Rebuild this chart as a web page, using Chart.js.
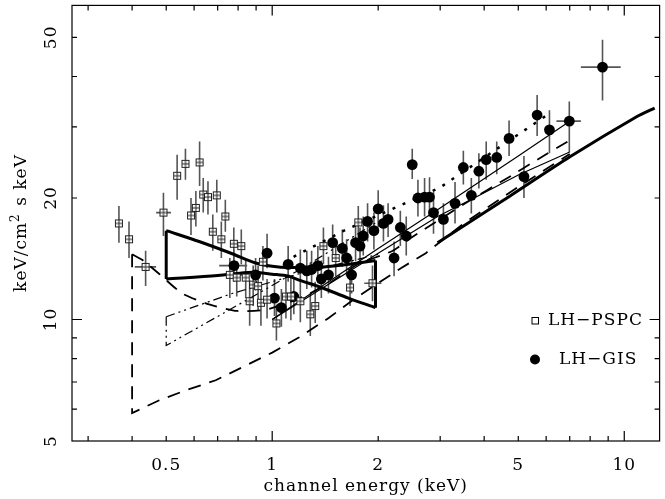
<!DOCTYPE html>
<html>
<head>
<meta charset="utf-8">
<script src="https://cdn.jsdelivr.net/npm/chart.js@4.4.1/dist/chart.umd.min.js"></script>
<style>
html, body { margin: 0; padding: 0; background: #fff; }
#wrap { width: 665px; height: 499px; }
</style>
</head>
<body>
<div id="wrap"><canvas id="myChart" width="665" height="499"></canvas></div>
<script>
// LH-PSPC points: energy (keV), flux, error bar low/high
const pspcE  = [0.367, 0.392, 0.437, 0.491, 0.537, 0.567, 0.622, 0.588, 0.607, 0.637, 0.657, 0.696, 0.736, 0.678, 0.717, 0.778, 0.817, 0.758, 0.793, 0.841, 0.883, 0.912, 0.863, 0.929, 0.941, 1.028, 0.967, 1.094, 1.130, 1.202, 1.325, 1.283, 1.398, 1.515, 1.664, 1.756, 1.927];
const pspcF  = [17.3, 15.8, 13.5, 18.4, 22.7, 24.3, 24.5, 18.1, 18.9, 20.4, 20.1, 20.3, 18.0, 16.5, 15.8, 15.4, 15.2, 12.9, 12.7, 12.7, 12.2, 12.1, 11.1, 11.0, 13.9, 9.78, 11.2, 11.4, 11.4, 11.1, 10.8, 10.3, 15.2, 14.2, 12.0, 17.4, 12.3];
const pspcLo = [15.5, 14.2, 12.1, 16.1, 19.8, 22.2, 21.4, 16.2, 17.0, 18.4, 18.2, 18.4, 16.5, 14.8, 14.2, 13.96, 13.7, 11.3, 11.4, 11.3, 10.8, 10.5, 9.65, 9.65, 12.5, 8.87, 10.05, 10.05, 9.95, 9.85, 9.8, 9.1, 13.7, 12.8, 10.8, 15.8, 11.1];
const pspcHi = [19.1, 17.5, 14.8, 20.6, 25.6, 26.5, 27.6, 20.0, 20.8, 22.4, 22.0, 22.2, 19.8, 18.2, 17.5, 16.9, 16.7, 14.2, 13.96, 14.1, 13.6, 13.6, 12.5, 12.4, 15.2, 10.9, 12.6, 12.8, 12.8, 12.5, 12.4, 11.6, 16.9, 15.6, 13.3, 19.1, 13.6];
const pspcXIdx = [2, 3, 17, 36];
const pspcXLo  = [0.407, 0.468, 0.707, 1.826];
const pspcXHi  = [0.468, 0.516, 0.841, 2.043];

// LH-GIS points
const gisE  = [0.779, 0.967, 0.897, 1.110, 1.202, 1.254, 1.294, 1.348, 1.015, 1.062, 1.152, 1.379, 1.445, 1.485, 1.582, 1.627, 1.681, 1.725, 1.776, 1.814, 1.866, 1.945, 2.000, 2.070, 2.134, 2.219, 2.312, 2.403, 2.499, 2.594, 2.709, 2.798, 2.872, 3.064, 3.306, 3.491, 3.678, 3.864, 4.054, 4.343, 4.708, 5.189, 5.656, 6.131, 6.981, 8.674];
const gisF  = [13.6, 14.6, 12.9, 13.7, 13.4, 13.2, 13.3, 13.6, 11.3, 10.7, 11.4, 12.6, 12.9, 15.5, 15.0, 14.2, 12.9, 15.5, 15.2, 16.1, 17.5, 16.6, 18.8, 17.3, 17.7, 14.2, 16.9, 16.1, 24.2, 20.0, 20.1, 20.1, 18.4, 17.7, 19.4, 23.8, 20.3, 23.3, 24.9, 25.2, 28.1, 22.6, 32.1, 29.5, 31.0, 42.2];
const gisLo = [12.4, 13.4, 11.8, 12.4, 12.1, 11.9, 12.0, 12.3, 10.2, 9.6, 10.3, 11.3, 11.6, 13.96, 13.5, 12.8, 11.6, 13.96, 13.7, 14.4, 15.6, 14.9, 16.9, 15.6, 16.0, 12.8, 15.2, 14.4, 22.3, 18.0, 18.0, 18.0, 16.3, 15.9, 17.3, 21.6, 18.3, 21.1, 22.2, 22.9, 25.4, 20.0, 28.5, 25.8, 26.0, 34.9];
const gisHi = [14.9, 16.3, 14.2, 15.2, 14.9, 14.8, 14.8, 15.2, 12.6, 11.9, 12.7, 14.0, 14.3, 17.2, 16.7, 15.8, 14.3, 17.3, 16.9, 18.0, 19.4, 18.4, 20.9, 19.2, 19.4, 15.6, 18.6, 18.0, 26.5, 22.2, 22.4, 22.5, 20.7, 19.4, 21.9, 26.2, 22.4, 25.8, 27.6, 27.6, 31.1, 25.4, 36.0, 33.0, 34.7, 49.3];
const gisXIdx = [0, 44, 45];
const gisXLo  = [0.707, 6.417, 7.53];
const gisXHi  = [0.849, 7.53, 9.77];

// model curves
const bowUpE = [0.5, 0.62, 0.77, 0.897, 1.0, 1.114, 1.4, 1.7, 1.965];
const bowUpF = [16.6, 15.6, 14.55, 13.8, 13.55, 13.45, 13.5, 13.75, 14.0];
const bowLoE = [0.5, 0.7, 0.876, 1.0, 1.114, 1.2, 1.38, 1.645, 1.965];
const bowLoF = [12.6, 12.85, 13.1, 12.95, 12.8, 12.5, 12.0, 11.3, 10.7];

const dashLoE = [0.4, 0.4, 0.478, 0.569, 0.691, 0.821, 1.0, 1.19, 1.45, 1.677, 2.0, 2.32, 2.73, 3.5, 5.0, 7.0];
const dashLoF = [14.5, 5.86, 6.31, 6.68, 7.07, 7.61, 8.28, 9.02, 10.1, 11.1, 12.3, 13.4, 14.6, 17.3, 21.3, 25.7];
const dashUpE = [0.4, 0.43, 0.478, 0.555, 0.662, 0.795, 0.96, 1.2, 1.45, 1.75, 2.2, 2.5, 3.5, 4.77, 5.54, 7.0];
const dashUpF = [14.5, 14.0, 12.96, 11.6, 10.9, 10.5, 10.57, 11.3, 12.3, 13.7, 14.8, 16.0, 19.3, 22.7, 24.6, 27.8];

const ddUpE = [0.5, 0.77, 1.2, 2.0];
const ddUpF = [10.16, 11.6, 13.0, 14.5];
const ddLoE = [0.5, 0.5, 0.82, 1.2, 2.0];
const ddLoF = [10.16, 8.62, 11.0, 13.3, 17.5];

const dotE = [1.15, 1.6, 2.99, 4.5, 6.1];
const dotF = [14.3, 16.6, 21.2, 27.0, 32.3];

const thinAE = [1.0, 2.0, 3.0, 5.0, 7.0];
const thinAF = [10.0, 15.0, 18.9, 25.4, 31.0];
const thinBE = [1.0, 2.0, 2.95, 3.83, 5.0, 7.0];
const thinBF = [10.0, 14.6, 18.0, 20.2, 22.8, 26.0];

const thickE = [2.95, 4.56, 7.01, 10.84, 12.2];
const thickF = [15.5, 19.8, 25.3, 31.8, 33.4];

// axis ticks
const xTickLabels = [0.5, 1, 2, 5, 10];
const xMajor = [1, 10];
const xMinor = [0.3, 0.4, 0.5, 0.6, 0.7, 0.8, 0.9, 2, 3, 4, 5, 6, 7, 8, 9];
const yTickLabels = [5, 10, 20, 50];
const yMajor = [10];
const yMinor = [6, 7, 8, 9, 20, 30, 40, 50];

const pts = (xs, ys) => xs.map((v, i) => ({ x: v, y: ys[i] }));

const FONT = '17px "DejaVu Serif"';

// open square with cross for the PSPC points
const sqImg = document.createElement('canvas');
sqImg.width = 10; sqImg.height = 10;
const g = sqImg.getContext('2d');
g.fillStyle = '#fff';
g.fillRect(1, 1, 8, 8);
g.strokeStyle = '#222';
g.lineWidth = 1;
g.strokeRect(1.5, 1.5, 7, 7);
g.beginPath();
g.moveTo(5, 1.5); g.lineTo(5, 8.5);
g.moveTo(1.5, 5); g.lineTo(8.5, 5);
g.stroke();

function line(data, width, dash, tension) {
    return {
        data: data,
        showLine: true,
        borderColor: '#000',
        borderWidth: width,
        borderDash: dash || [],
        pointRadius: 0,
        fill: false,
        tension: tension || 0
    };
}

const errorBars = {
    id: 'errorBars',
    beforeDatasetsDraw(chart) {
        const { ctx, scales: { x, y } } = chart;
        ctx.save();
        ctx.strokeStyle = '#555';
        ctx.lineWidth = 1.6;
        ctx.beginPath();
        const vert = (es, lo, hi) => {
            es.forEach((e, i) => {
                const px = x.getPixelForValue(e);
                ctx.moveTo(px, y.getPixelForValue(lo[i]));
                ctx.lineTo(px, y.getPixelForValue(hi[i]));
            });
        };
        vert(pspcE, pspcLo, pspcHi);
        vert(gisE, gisLo, gisHi);
        const horiz = (idx, fs, lo, hi) => {
            idx.forEach((k, i) => {
                const py = y.getPixelForValue(fs[k]);
                ctx.moveTo(x.getPixelForValue(lo[i]), py);
                ctx.lineTo(x.getPixelForValue(hi[i]), py);
            });
        };
        horiz(pspcXIdx, pspcF, pspcXLo, pspcXHi);
        horiz(gisXIdx, gisF, gisXLo, gisXHi);
        ctx.stroke();
        ctx.restore();
    }
};

const axisFrame = {
    id: 'axisFrame',
    afterDraw(chart) {
        const { ctx, chartArea: a, scales: { x, y } } = chart;
        ctx.save();
        ctx.strokeStyle = '#000';
        ctx.lineWidth = 1.2;
        ctx.strokeRect(a.left, a.top, a.right - a.left, a.bottom - a.top);

        ctx.beginPath();
        const xt = (v, len) => {
            const px = x.getPixelForValue(v);
            ctx.moveTo(px, a.bottom); ctx.lineTo(px, a.bottom - len);
            ctx.moveTo(px, a.top); ctx.lineTo(px, a.top + len);
        };
        const yt = (v, len) => {
            const py = y.getPixelForValue(v);
            ctx.moveTo(a.left, py); ctx.lineTo(a.left + len, py);
            ctx.moveTo(a.right, py); ctx.lineTo(a.right - len, py);
        };
        xMinor.forEach(v => xt(v, 5));
        xMajor.forEach(v => xt(v, 10));
        yMinor.forEach(v => yt(v, 5));
        yMajor.forEach(v => yt(v, 10));
        ctx.stroke();

        ctx.fillStyle = '#000';
        ctx.font = FONT;
        ctx.letterSpacing = '1px';
        ctx.textAlign = 'center';
        ctx.textBaseline = 'middle';
        xTickLabels.forEach(v => ctx.fillText(String(v), x.getPixelForValue(v), 466));
        ctx.fillText('channel energy (keV)', (a.left + a.right) / 2, 487);

        yTickLabels.forEach(v => {
            ctx.save();
            ctx.translate(52, y.getPixelForValue(v));
            ctx.rotate(-Math.PI / 2);
            ctx.fillText(String(v), 0, 0);
            ctx.restore();
        });

        // y title with superscript
        ctx.save();
        ctx.translate(22, 223);
        ctx.rotate(-Math.PI / 2);
        ctx.textAlign = 'left';
        const p1 = 'keV/cm', p3 = ' s keV';
        const w1 = ctx.measureText(p1).width;
        const w3 = ctx.measureText(p3).width;
        ctx.font = '12px "DejaVu Serif"';
        const w2 = ctx.measureText('2').width + 1;
        const start = -(w1 + w2 + w3) / 2;
        ctx.font = FONT;
        ctx.fillText(p1, start, 0);
        ctx.font = '12px "DejaVu Serif"';
        ctx.fillText('2', start + w1, -6);
        ctx.font = FONT;
        ctx.fillText(p3, start + w1 + w2, 0);
        ctx.restore();

        // legend
        ctx.lineWidth = 1;
        ctx.strokeStyle = '#000';
        ctx.fillStyle = '#fff';
        ctx.fillRect(532, 317.5, 6.5, 6.5);
        ctx.strokeRect(532, 317.5, 6.5, 6.5);
        ctx.fillStyle = '#000';
        ctx.beginPath();
        ctx.arc(535, 359.5, 5, 0, Math.PI * 2);
        ctx.fill();
        ctx.textAlign = 'left';
        ctx.fillText('LH\u2212PSPC', 548, 321);
        ctx.fillText('LH\u2212GIS', 559, 360);
        ctx.restore();
    }
};

const ctx = document.getElementById('myChart').getContext('2d');
new Chart(ctx, {
    type: 'scatter',
    data: {
        datasets: [
            {
                label: 'LH-PSPC',
                data: pts(pspcE, pspcF),
                pointStyle: sqImg,
                pointRadius: 4,
                showLine: false
            },
            {
                label: 'LH-GIS',
                data: pts(gisE, gisF),
                pointStyle: 'circle',
                pointRadius: 5.4,
                backgroundColor: '#000',
                borderWidth: 0,
                showLine: false
            },
            line(pts(bowUpE, bowUpF), 3, null, 0.3),
            line(pts(bowLoE, bowLoF), 3, null, 0.3),
            line([{ x: bowUpE[0], y: bowUpF[0] }, { x: bowLoE[0], y: bowLoF[0] }], 3),
            line([{ x: bowUpE[bowUpE.length - 1], y: bowUpF[bowUpF.length - 1] }, { x: bowLoE[bowLoE.length - 1], y: bowLoF[bowLoF.length - 1] }], 3),
            line(pts(thickE, thickF), 3, null, 0.2),
            line(pts(dashLoE, dashLoF), 1.8, [13, 9]),
            line(pts(dashUpE, dashUpF), 1.8, [13, 9], 0.2),
            line(pts(ddUpE, ddUpF), 1.2, [9, 4, 2, 4, 2, 4]),
            line(pts(ddLoE, ddLoF), 1.2, [9, 4, 2, 4, 2, 4]),
            line(pts(dotE, dotF), 2.5, [3, 8]),
            line(pts(thinAE, thinAF), 1.2),
            line(pts(thinBE, thinBF), 1.2)
        ]
    },
    options: {
        responsive: false,
        animation: false,
        layout: { padding: { left: 72, right: 2, top: 3, bottom: 58 } },
        plugins: {
            legend: { display: false },
            tooltip: { enabled: false }
        },
        scales: {
            x: { type: 'logarithmic', min: 0.27, max: 12.6, display: false },
            y: { type: 'logarithmic', min: 5, max: 60, display: false }
        }
    },
    plugins: [errorBars, axisFrame]
});
</script>
</body>
</html>
